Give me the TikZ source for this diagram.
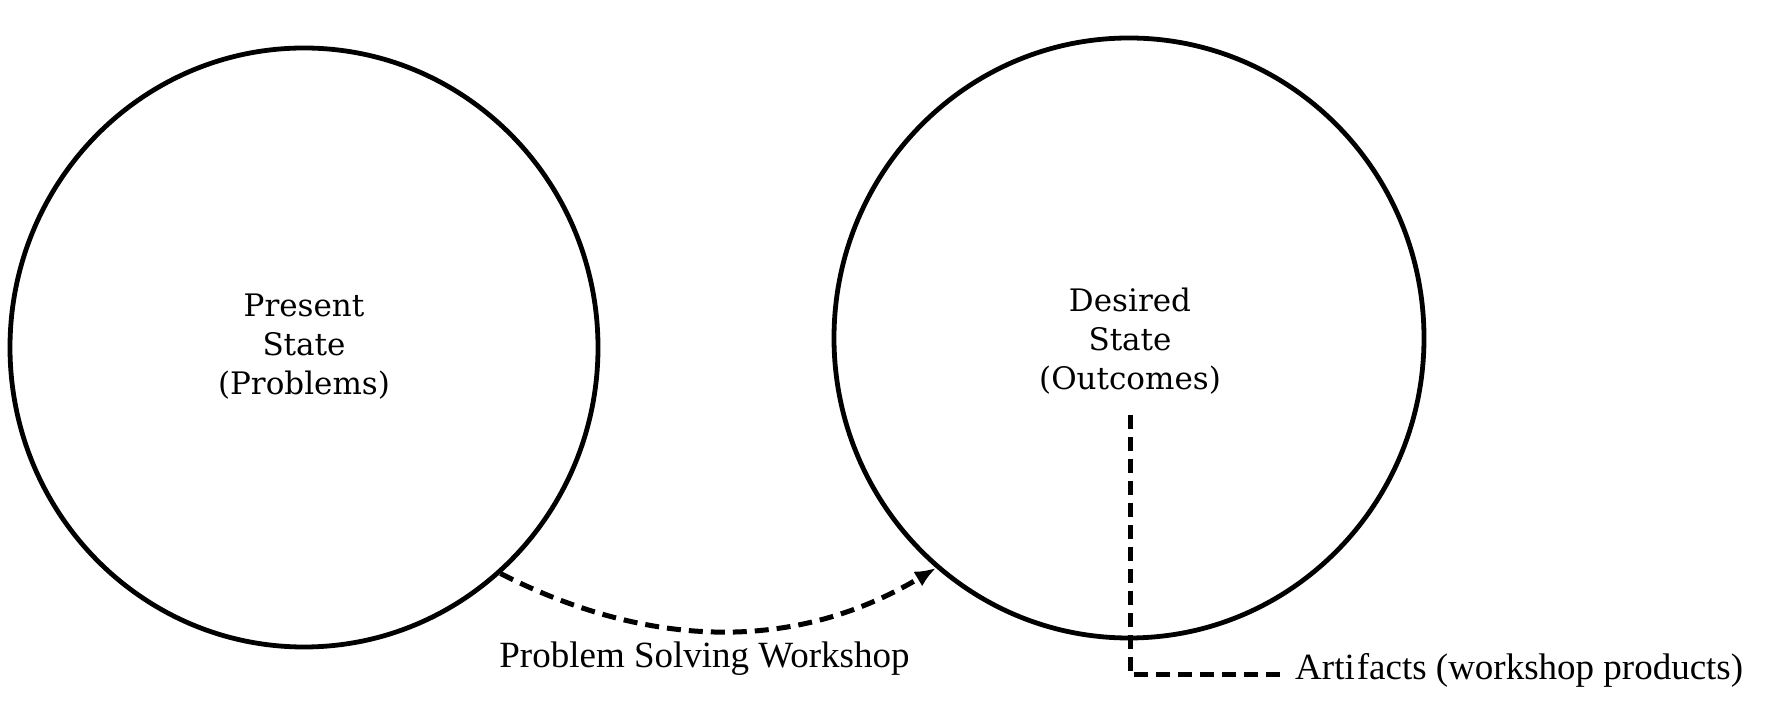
\documentclass[tikz,border=0pt]{standalone}
\usepackage{fontspec}
\setmainfont{Liberation Serif}
\newfontfamily\innerfont{DejaVu Serif}
\usetikzlibrary{arrows.meta,shapes.geometric}
\begin{document}
\begin{tikzpicture}[x=1pt,y=1pt,
  statecirc/.style={ellipse, draw, line width=4.8pt, inner sep=0pt},
  statetext/.style={font=\innerfont\fontsize{31}{39}\selectfont, align=center, inner sep=0pt},
  dashline/.style={line width=5pt, dash pattern=on 14pt off 8pt},
  lab/.style={font=\fontsize{37}{44}\selectfont, inner sep=0pt}]
\useasboundingbox (0,0) rectangle (1774,722);
\node[statecirc, minimum width=588pt, minimum height=599pt] (present) at (304,374.5) {};
\node[statetext] (ptext) at (304,375) {Present\\State\\(Problems)};
\node[statecirc, minimum width=590pt, minimum height=600pt] (desired) at (1129,384) {};
\node[statetext] (dtext) at (1130,381) {Desired\\State\\(Outcomes)};
\draw[dashline, -{Latex[length=21pt,width=17pt]}] (present.-49.5) to[out=-27,in=-149,looseness=0.97] (desired.-130.15);
\node[lab, anchor=base] (psw) at (704.5,54) {Problem Solving Workshop};
\node[lab, anchor=base west] (art) at (1295,42) {Arti\kern2pt facts (workshop products)};
\coordinate (artstart) at (1130,307);
\draw[dashline] (artstart) |- ([xshift=-10pt,yshift=5pt]art.base west);
\end{tikzpicture}
\end{document}
